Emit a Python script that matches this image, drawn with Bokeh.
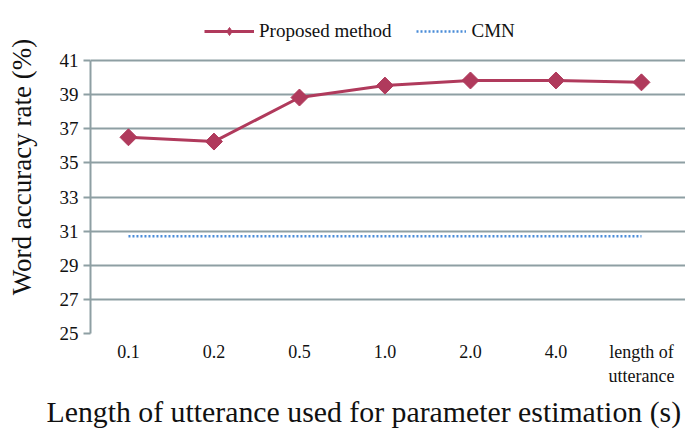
from bokeh.plotting import figure
from bokeh.models import Legend, LegendItem, FixedTicker, Range1d, ColumnDataSource, Title
from bokeh.embed import file_html
from bokeh.resources import INLINE

categories = ["0.1", "0.2", "0.5", "1.0", "2.0", "4.0", "length of\nutterance"]
proposed = [36.5, 36.25, 38.83, 39.53, 39.83, 39.83, 39.72]
cmn = [30.7] * len(categories)
y_ticks = [25, 27, 29, 31, 33, 35, 37, 39, 41]

xs = list(range(len(categories)))
src = ColumnDataSource(dict(x=xs, p=proposed, c=cmn))

FONT = "Liberation Serif"
GRID = "#8E9FA3"

p = figure(width=685, height=433, output_backend="svg", toolbar_location=None,
           x_range=Range1d(-0.444, 6.515), y_range=Range1d(25, 44.517),
           min_border_left=90, min_border_right=0, min_border_top=0, min_border_bottom=100)
p.outline_line_color = None
p.xgrid.grid_line_color = None
p.ygrid.grid_line_color = GRID
p.ygrid.grid_line_width = 2
p.ygrid.ticker = FixedTicker(ticks=y_ticks)

p.yaxis.ticker = FixedTicker(ticks=y_ticks)
p.yaxis.bounds = (25, 41)
p.yaxis.axis_line_color = GRID
p.yaxis.axis_line_width = 2
p.yaxis.major_tick_line_color = GRID
p.yaxis.major_tick_line_width = 2
p.yaxis.major_tick_out = 7
p.yaxis.major_tick_in = 0
p.yaxis.minor_tick_line_color = None
p.yaxis.major_label_standoff = 5
p.yaxis.major_label_text_font = FONT
p.yaxis.major_label_text_font_size = "19px"
p.yaxis.major_label_text_color = "#111111"
p.yaxis.axis_label = "Word accuracy rate (%)"
p.yaxis.axis_label_text_font = FONT
p.yaxis.axis_label_text_font_size = "27px"
p.yaxis.axis_label_text_font_style = "normal"
p.yaxis.axis_label_text_color = "#111111"
p.yaxis.axis_label_standoff = 20

p.xaxis.ticker = FixedTicker(ticks=xs)
p.xaxis.major_label_overrides = {i: c for i, c in enumerate(categories)}
p.xaxis.axis_line_color = None
p.xaxis.major_tick_line_color = None
p.xaxis.major_tick_out = 0
p.xaxis.major_tick_in = 0
p.xaxis.minor_tick_line_color = None
p.xaxis.major_label_text_font = FONT
p.xaxis.major_label_text_font_size = "18px"
p.xaxis.major_label_text_color = "#111111"
p.xaxis.major_label_standoff = 8

xtitle = Title(text="Length of utterance used for parameter estimation  (s)",
               align="left", offset=-44, text_font=FONT, text_font_size="29.8px",
               text_font_style="normal", text_color="#111111", standoff=8)
p.add_layout(xtitle, "below")

c_line = p.line("x", "c", source=src, line_color="#4A8CD8", line_width=2.5, line_dash="2 2")
p_line = p.line("x", "p", source=src, line_color="#B03A5C", line_width=3)
p_mark = p.scatter("x", "p", source=src, marker="square", size=12, angle=0.785398,
                   fill_color="#B03A5C", line_color="#B03A5C")
# legend-only marker, placed outside the visible range
leg_mark = p.scatter(x=[-10], y=[0], marker="diamond", size=15,
                     fill_color="#B03A5C", line_color="#B03A5C")

legend = Legend(items=[LegendItem(label="Proposed method", renderers=[p_line, leg_mark]),
                       LegendItem(label="CMN", renderers=[c_line])],
                orientation="horizontal", location=(114, 291),
                label_text_font=FONT, label_text_font_size="19px",
                label_text_color="#111111", border_line_color=None,
                background_fill_alpha=0, spacing=25, glyph_width=50,
                label_standoff=5, margin=0, padding=4)
p.add_layout(legend, "center")

open("out.html", "w").write(file_html(p, INLINE))
